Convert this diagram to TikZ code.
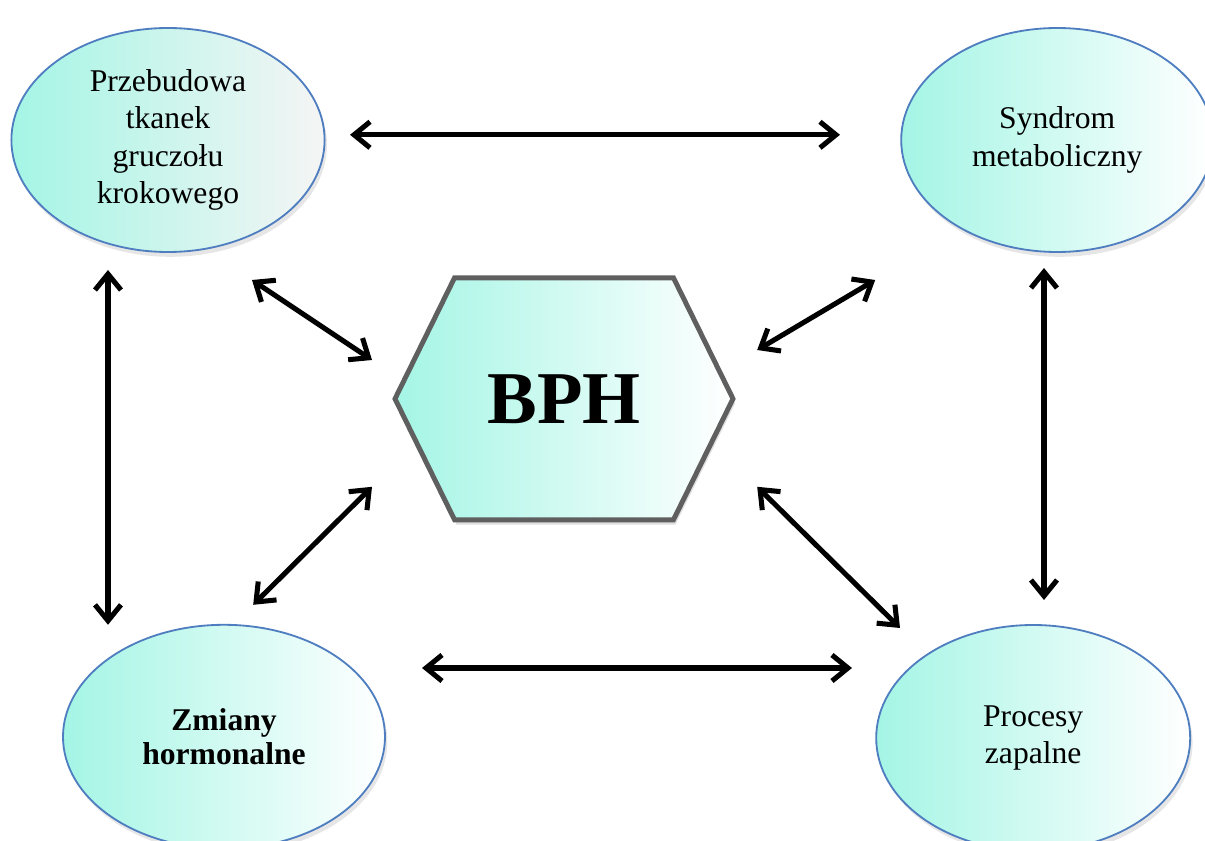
\documentclass[tikz,border=0pt]{standalone}
\usepackage{fontspec}
\setmainfont{Liberation Serif}
\usetikzlibrary{shapes.geometric,shapes.symbols,arrows.meta,shadows}

\definecolor{mint}{HTML}{A4F5E5}
\definecolor{ringblue}{HTML}{4F7EC0}
\definecolor{hexgray}{HTML}{5F5F5F}

\tikzset{
    factor/.style={ellipse, draw=ringblue, line width=1.3pt, left color=mint, right color=white,
        align=center, inner sep=0pt, font=\fontsize{22.5}{26.5}\selectfont,
        drop shadow={shadow xshift=0.06cm, shadow yshift=-0.12cm, opacity=0.2}},
    core/.style={signal, signal to=west and east, signal pointer angle=127.6,
        draw=hexgray, line width=3.5pt, left color=mint, right color=white,
        minimum width=8.45cm, minimum height=6.05cm, font=\fontsize{53}{60}\selectfont\bfseries,
        drop shadow={shadow xshift=0.05cm, shadow yshift=-0.12cm, opacity=0.25}},
    link/.style={line width=3.6pt, {Straight Barb[length=4mm,width=6.5mm]}-{Straight Barb[length=4mm,width=6.5mm]}}
}

\begin{document}
\begin{tikzpicture}

    \useasboundingbox (0,0) rectangle (30.125,21);
    \clip (0,0) rectangle (30.125,21);

    % czynniki
    \node[factor, minimum width=7.83cm, minimum height=5.6cm, right color=gray!8] (remodel) at (4.2,17.5)
        {Przebudowa\\tkanek\\gruczołu\\krokowego};
    \node[factor, minimum width=7.8cm, minimum height=5.6cm] (metab) at (26.43,17.5)
        {Syndrom\\metaboliczny};
    \node[factor, minimum width=8.05cm, minimum height=5.6cm, font=\fontsize{22.5}{24.5}\selectfont\bfseries] (hormon) at (5.6,2.58)
        {Zmiany\\hormonalne};
    \node[factor, minimum width=7.85cm, minimum height=5.65cm] (inflam) at (25.83,2.55)
        {Procesy\\zapalne};

    \node[core] (bph) at (14.1,11.03) {BPH};

    % konce strzalek
    \coordinate (top-a) at (8.75,17.63);
    \coordinate (top-b) at (21.0,17.63);
    \coordinate (bot-a) at (10.55,4.3);
    \coordinate (bot-b) at (21.3,4.3);
    \coordinate (lft-a) at (2.7,14.25);
    \coordinate (lft-b) at (2.7,5.38);
    \coordinate (rgt-a) at (26.1,14.3);
    \coordinate (rgt-b) at (26.1,6.0);
    \coordinate (dtl-a) at (6.3,14.0);
    \coordinate (dtl-b) at (9.3,12.0);
    \coordinate (dtr-a) at (21.88,14.0);
    \coordinate (dtr-b) at (18.93,12.25);
    \coordinate (dbl-a) at (9.3,8.83);
    \coordinate (dbl-b) at (6.33,5.88);
    \coordinate (dbr-a) at (18.93,8.83);
    \coordinate (dbr-b) at (22.5,5.3);

    \draw[link] (top-a) -- (top-b);
    \draw[link] (bot-a) -- (bot-b);
    \draw[link] (lft-a) -- (lft-b);
    \draw[link] (rgt-a) -- (rgt-b);
    \draw[link] (dtl-a) -- (dtl-b);
    \draw[link] (dtr-a) -- (dtr-b);
    \draw[link] (dbl-a) -- (dbl-b);
    \draw[link] (dbr-a) -- (dbr-b);

\end{tikzpicture}
\end{document}
